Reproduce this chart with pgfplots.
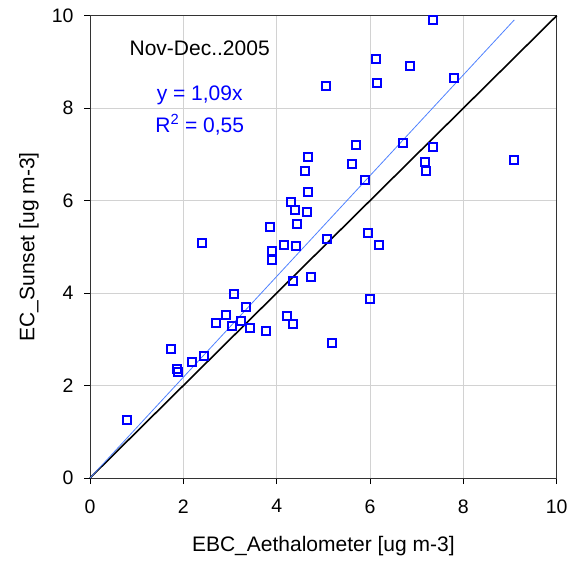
\documentclass[border=0pt]{standalone}
\usepackage{pgfplots}
\pgfplotsset{compat=1.18}
\usepackage{fontspec}
\setmainfont{Liberation Sans}
\definecolor{markblue}{RGB}{0,0,255}
\definecolor{fitblue}{RGB}{80,130,255}
\definecolor{gridgray}{RGB}{210,210,210}

\pgfplotstableread{
x y
0.79 1.26
1.73 2.78
1.86 2.35
1.88 2.29
2.19 2.52
2.44 2.63
2.41 5.08
2.69 3.36
2.91 3.52
3.04 3.28
3.09 3.99
3.23 3.40
3.34 3.69
3.42 3.25
3.77 3.17
3.86 5.43
3.91 4.90
3.91 4.72
4.16 5.03
4.41 5.01
4.22 3.51
4.34 3.33
4.34 4.26
4.74 4.34
5.08 5.17
5.19 2.92
5.96 5.31
6.20 5.04
5.99 3.87
5.05 8.48
4.67 6.94
4.61 6.64
4.67 6.19
4.31 5.97
4.39 5.79
4.64 5.75
4.44 5.50
7.36 9.90
6.12 9.06
6.86 8.92
6.16 8.54
7.81 8.65
5.69 7.21
6.71 7.25
7.35 7.15
5.62 6.79
7.17 6.83
7.21 6.64
9.08 6.88
5.90 6.45
}\ecdata

\begin{document}
\begin{tikzpicture}
\path[use as bounding box] (-90pt,-85pt) rectangle (487pt,478pt);
\begin{axis}[
  at={(0,0)}, anchor=south west,
  scale only axis,
  width=466.7pt, height=462.3pt,
  xmin=0, xmax=10, ymin=0, ymax=10,
  xtick={0,2,...,10}, ytick={0,2,...,10},
  grid=major,
  major grid style={gridgray, line width=0.9pt},
  axis line style={black!80, line width=0.9pt},
  tick align=outside,
  xtick pos=bottom, ytick pos=left,
  major tick length=6pt,
  tick style={black, line width=0.8pt},
  /pgf/number format/assume math mode=true,
  ticklabel style={font=\fontsize{19.5}{22}\selectfont},
  xticklabel style={yshift=-12pt},
  yticklabel style={xshift=-7pt},
  label style={font=\fontsize{21}{24}\selectfont},
  xlabel={EBC\_Aethalometer [ug m-3]},
  ylabel={EC\_Sunset [ug m-3]},
  xlabel style={at={(axis description cs:0.5,-0.147)}, anchor=center},
  ylabel style={at={(axis description cs:-0.131,0.5)}, anchor=center},
  clip=false,
]
% 1:1 reference line
\addplot[black, line width=1.6pt] coordinates {(0,0) (10,10)};
% linear fit through the origin, y = 1.09x
\addplot[fitblue, line width=0.8pt] coordinates {(0,0) (9.09,9.908)};
% measurements
\addplot[only marks, mark=square, mark size=4pt,
  mark options={draw=markblue, line width=2pt}] table {\ecdata};
\node[font=\fontsize{21}{24}\selectfont, anchor=center]
  at (axis cs:2.35,9.29) {Nov-Dec..2005};
\node[font=\fontsize{21}{24}\selectfont, text=markblue, anchor=center]
  at (axis cs:2.35,8.27) {y = 1,09x};
\node[font=\fontsize{21}{24}\selectfont, text=markblue, anchor=center]
  at (axis cs:2.35,7.64) {R\textsuperscript{2} = 0,55};
\end{axis}
\end{tikzpicture}
\end{document}
